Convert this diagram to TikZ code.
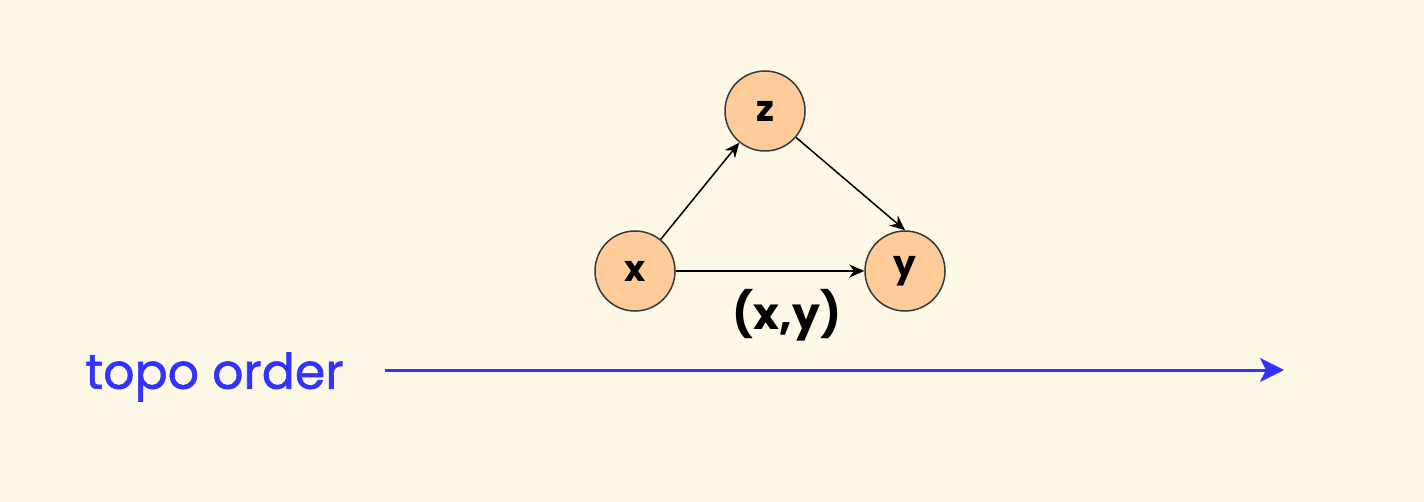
\documentclass[tikz,border=0pt]{standalone}
\usepackage{fontspec}
\setmainfont{Poppins}
\newfontfamily\medfont[FakeBold=1.2]{Poppins}
\usetikzlibrary{arrows.meta}
\definecolor{bg}{HTML}{FEF8E6}
\definecolor{peach}{HTML}{FFCC99}
\definecolor{rim}{HTML}{36393D}
\definecolor{topoblue}{HTML}{3333FF}
\tikzset{
  vert/.style={circle, draw=rim, line width=0.75pt, fill=peach, minimum size=40pt, inner sep=0pt, font=\fontsize{18}{18}\selectfont\bfseries},
  edgearrow/.style={line width=0.75pt, -{Stealth[length=7.5pt,width=6.5pt]}},
  toparrow/.style={topoblue, line width=1.5pt, -{Stealth[length=12pt,width=12pt,inset=3pt]}}
}
\begin{document}
\begin{tikzpicture}[x=0.5pt,y=-0.5pt]
\fill[bg] (0,0) rectangle (1424,502);
\useasboundingbox (0,0) rectangle (1424,502);
\node[vert] (z) at (765,111) {z};
\node[vert] (x) at (635,271) {x};
\node[vert] (y) at (905,271) {y};
\draw[edgearrow] (x) -- (z);
\draw[edgearrow] (z) -- (y.north);
\draw[edgearrow] (x) -- (y);
\node[font=\fontsize{22}{22}\selectfont\bfseries] (lab) at (787,315) {(x,y)};
\node[topoblue, font=\medfont\fontsize{24.5}{24.5}\selectfont, anchor=west, inner sep=0pt] (topo) at (85,377) {topo order};
\coordinate (a) at (385,370);
\coordinate (b) at (1284,370);
\draw[toparrow] (a) -- (b);
\end{tikzpicture}
\end{document}
